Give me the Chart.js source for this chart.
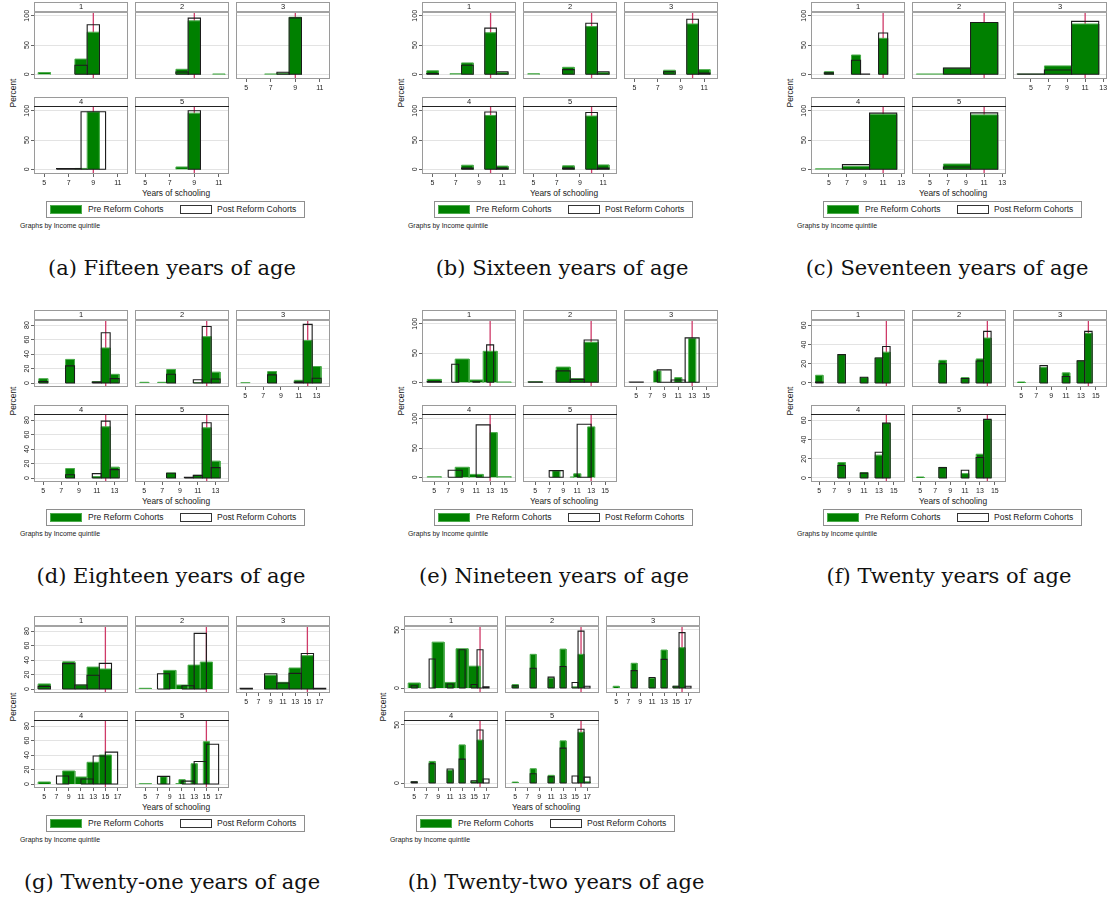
<!DOCTYPE html>
<html>
<head>
<meta charset="utf-8">
<script src="https://cdn.jsdelivr.net/npm/chart.js@4.4.1/dist/chart.umd.min.js"></script>
<style>
  body { margin: 0; background: #fff; width: 1112px; height: 900px; position: relative; overflow: hidden;
         font-family: "Liberation Sans", Arial, sans-serif; color: #1a1a1a; }
  .abs { position: absolute; white-space: nowrap; }
  .box { position: absolute; border: 1px solid #9a9a9a; box-sizing: border-box; pointer-events: none; z-index: 2; }
  .strip { position: absolute; text-align: center; font-size: 7.5px; background: #fff; z-index: 2; }
  .cap { position: absolute; font-family: "DejaVu Serif", serif; font-size: 21px; text-align: center; width: 400px;
         height: 26px; line-height: 26px; color: #111; }
  canvas { position: absolute; z-index: 1; }
</style>
</head>
<body>
<script>
// text
const ageTitles = ["(a) Fifteen years of age", "(b) Sixteen years of age", "(c) Seventeen years of age",
  "(d) Eighteen years of age", "(e) Nineteen years of age", "(f) Twenty years of age",
  "(g) Twenty-one years of age", "(h) Twenty-two years of age"];
const quintiles = ["1", "2", "3", "4", "5"];
const legendLabels = ["Pre Reform Cohorts", "Post Reform Cohorts"];
const xTitle = "Years of schooling";
const yTitle = "Percent";
const byNote = "Graphs by Income quintile";

// compulsory schooling cut-off (red line), one per age
const reformCutoff = [9, 10, 11, 12, 13, 14, 15, 16];

// tick labels
const xTicksTo11 = [5, 7, 9, 11];
const xTicksTo13 = [5, 7, 9, 11, 13];
const xTicksTo15 = [5, 7, 9, 11, 13, 15];
const xTicksTo17 = [5, 7, 9, 11, 13, 15, 17];
const yTicks100 = [0, 50, 100];
const yTicks80 = [0, 20, 40, 60, 80];
const yTicks60 = [0, 20, 40, 60];
const yTicks50 = [0, 50];

// bins per quintile: [from, to, percent]
const fifteenPre = [
  [[4.5, 5.5, 3], [7.5, 8.5, 26], [8.5, 9.5, 72]],
  [[7.5, 8.5, 8.6], [8.5, 9.5, 91.4], [10.5, 11.5, 0.6]],
  [[6.5, 7.5, 0.6], [7.5, 8.5, 2], [8.5, 9.5, 97.5]],
  [[7.5, 8.5, 1.5], [8.5, 9.5, 98]],
  [[7.5, 8.5, 4], [8.5, 9.5, 96]]
];
const fifteenPost = [
  [[7.5, 8.5, 15.4], [8.5, 9.5, 84.6]],
  [[7.5, 8.5, 4], [8.5, 9.5, 96]],
  [[7.5, 8.5, 3.5], [8.5, 9.5, 96.5]],
  [[6, 8, 1.5], [8, 10, 98.5]],
  [[8.5, 9.5, 100]]
];
const sixteenPre = [
  [[4.5, 5.5, 6], [6.5, 7.5, 1], [7.5, 8.5, 19.5], [9.5, 10.5, 71], [10.5, 11.5, 3]],
  [[4.5, 5.5, 1], [7.5, 8.5, 12], [9.5, 10.5, 81.6], [10.5, 11.5, 3]],
  [[7.5, 8.5, 7], [9.5, 10.5, 86], [10.5, 11.5, 8]],
  [[7.5, 8.5, 7], [9.5, 10.5, 92], [10.5, 11.5, 5.5]],
  [[7.5, 8.5, 6], [9.5, 10.5, 91], [10.5, 11.5, 7.5]]
];
const sixteenPost = [
  [[4.5, 5.5, 1.5], [7.5, 8.5, 15.5], [9.5, 10.5, 79], [10.5, 11.5, 4.5]],
  [[7.5, 8.5, 8], [9.5, 10.5, 87.4], [10.5, 11.5, 4.5]],
  [[7.5, 8.5, 4.5], [9.5, 10.5, 94], [10.5, 11.5, 2]],
  [[7.5, 8.5, 2], [9.5, 10.5, 98], [10.5, 11.5, 2]],
  [[7.5, 8.5, 2], [9.5, 10.5, 97], [10.5, 11.5, 2]]
];
const seventeenPre = [
  [[4.5, 5.5, 4.5], [7.5, 8.5, 33], [10.5, 11.5, 61.5]],
  [[3.5, 6.5, 0.6], [6.5, 9.5, 10.5], [9.5, 12.5, 88.5]],
  [[3.5, 6.5, 0.3], [6.5, 9.5, 14.4], [9.5, 12.5, 86]],
  [[3.5, 6.5, 0.8], [6.5, 9.5, 5], [9.5, 12.5, 94]],
  [[6.5, 9.5, 9], [9.5, 12.5, 93]]
];
const seventeenPost = [
  [[4.5, 5.5, 2.5], [7.5, 8.5, 24], [8.5, 9.5, 0.5], [10.5, 11.5, 70.7]],
  [[6.5, 9.5, 10.5], [9.5, 12.5, 88.5]],
  [[3.5, 6.5, 0.5], [6.5, 9.5, 7.5], [9.5, 12.5, 90.5]],
  [[6.5, 9.5, 8], [9.5, 12.5, 96]],
  [[6.5, 9.5, 4], [9.5, 12.5, 96.5]]
];
const eighteenPre = [
  [[4.5, 5.5, 6], [7.5, 8.5, 32.6], [10.5, 11.5, 2], [11.5, 12.5, 48.4], [12.5, 13.5, 12]],
  [[4.5, 5.5, 1], [6.5, 7.5, 1], [7.5, 8.5, 18.6], [10.5, 11.5, 0.5], [11.5, 12.5, 64], [12.5, 13.5, 15]],
  [[4.5, 5.5, 0.5], [7.5, 8.5, 15.8], [10.5, 11.5, 3.7], [11.5, 12.5, 58.6], [12.5, 13.5, 22.8]],
  [[7.5, 8.5, 13], [10.5, 11.5, 2], [11.5, 12.5, 70.7], [12.5, 13.5, 15]],
  [[7.5, 8.5, 7], [10.5, 11.5, 3.7], [11.5, 12.5, 69.3], [12.5, 13.5, 23.3]]
];
const eighteenPost = [
  [[4.5, 5.5, 2], [7.5, 8.5, 23.7], [10.5, 11.5, 1.5], [11.5, 12.5, 69.3], [12.5, 13.5, 6]],
  [[7.5, 8.5, 12], [10.5, 11.5, 4.6], [11.5, 12.5, 78], [12.5, 13.5, 5.6]],
  [[7.5, 8.5, 11.2], [10.5, 11.5, 1.5], [11.5, 12.5, 81], [12.5, 13.5, 6.5]],
  [[7.5, 8.5, 4.6], [10.5, 11.5, 6], [11.5, 12.5, 78.6], [12.5, 13.5, 11.6]],
  [[7.5, 8.5, 6.5], [9.5, 10.5, 1], [10.5, 11.5, 3.7], [11.5, 12.5, 76.3], [12.5, 13.5, 14.4]]
];
const nineteenPre = [
  [[4, 6, 5], [8, 10, 39.7], [10, 12, 4], [12, 14, 53], [14, 16, 0.6]],
  [[4, 6, 1], [8, 10, 26], [10, 12, 6.3], [12, 14, 68.4]],
  [[7.5, 8.5, 19.5], [10.5, 11.5, 8], [12.5, 13.5, 74.7]],
  [[4, 6, 1], [8, 10, 17.2], [10, 12, 5], [13, 14, 76.4], [14, 16, 1]],
  [[7.5, 8.5, 11], [10, 10.5, 0.6], [10.5, 11.5, 6], [12.5, 13.5, 86.2]]
];
const nineteenPost = [
  [[4, 6, 1.5], [7.5, 8.5, 31], [10.5, 11.5, 1], [12.5, 13.5, 64]],
  [[4, 6, 0.5], [8, 10, 19.5], [10, 12, 5], [12, 14, 72.4]],
  [[4, 6, 0.5], [8, 10, 21.3], [10, 12, 4], [12, 14, 76]],
  [[7, 9, 12], [11, 13, 89.7]],
  [[7, 9, 11.5], [11, 13, 90.8]]
];
const twentyPre = [
  [[4.5, 5.5, 8], [7.5, 8.5, 29.5], [10.5, 11.5, 5.6], [12.5, 13.5, 26], [13.5, 14.5, 32]],
  [[7.5, 8.5, 23.5], [10.5, 11.5, 5.6], [12.5, 13.5, 25], [13.5, 14.5, 46.7]],
  [[4.5, 5.5, 1], [7.5, 8.5, 16], [10.5, 11.5, 10.5], [12.5, 13.5, 23], [13.5, 14.5, 51.6]],
  [[7.5, 8.5, 16], [10.5, 11.5, 5.6], [12.5, 13.5, 23.7], [13.5, 14.5, 56.8]],
  [[4.5, 5.5, 1], [7.5, 8.5, 11], [10.5, 11.5, 4.5], [12.5, 13.5, 24.7], [13.5, 14.5, 60.6]]
];
const twentyPost = [
  [[4.5, 5.5, 1], [7.5, 8.5, 29.5], [10.5, 11.5, 6], [12.5, 13.5, 26], [13.5, 14.5, 38]],
  [[7.5, 8.5, 20], [10.5, 11.5, 4.6], [12.5, 13.5, 22.8], [13.5, 14.5, 53.7]],
  [[7.5, 8.5, 18], [10.5, 11.5, 6.7], [12.5, 13.5, 23], [13.5, 14.5, 53.7]],
  [[7.5, 8.5, 13], [10.5, 11.5, 5], [12.5, 13.5, 26.8], [13.5, 14.5, 57]],
  [[7.5, 8.5, 10.8], [10.5, 11.5, 8], [12.5, 13.5, 21.3], [13.5, 14.5, 61]]
];
const twentyOnePre = [
  [[4, 6, 7], [8, 10, 37.5], [10, 12, 5.5], [12, 14, 30.3], [14, 16, 27.6]],
  [[4, 6, 1], [8, 10, 25.7], [10, 12, 5.5], [12, 14, 33], [14, 16, 37.2]],
  [[8, 10, 19], [10, 12, 9.2], [12, 14, 29], [14, 16, 46]],
  [[4, 6, 2.8], [8, 10, 18], [10, 12, 9.7], [12, 14, 30], [14, 16, 40]],
  [[4, 6, 0.5], [7.5, 8.5, 10], [10, 10.5, 0.6], [10.5, 11.5, 6], [12.5, 13.5, 28], [14.5, 15.5, 58.4]]
];
const twentyOnePost = [
  [[4, 6, 3.7], [8, 10, 35], [10, 12, 5.5], [12, 14, 19], [14, 16, 35.4]],
  [[7, 9, 21], [11, 13, 4.6], [13, 15, 76.8]],
  [[4, 6, 1], [8, 10, 21], [10, 12, 8.3], [12, 14, 21.6], [14, 16, 49], [16, 18, 1]],
  [[7, 9, 11], [11, 13, 7], [13, 15, 38.6], [15, 17, 44]],
  [[7, 9, 10.6], [11, 13, 4], [13, 15, 31], [15, 17, 55]]
];
const twentyTwoPre = [
  [[4, 6, 4.3], [8, 10, 39.5], [10, 12, 4.8], [12, 14, 33.8], [14, 16, 18.8]],
  [[4.5, 5.5, 3], [7.5, 8.5, 29], [10.5, 11.5, 8.5], [12.5, 13.5, 33.5], [14.5, 15.5, 1], [15.5, 16.5, 29]],
  [[4.5, 5.5, 1.5], [7.5, 8.5, 21.3], [10.5, 11.5, 8.5], [12.5, 13.5, 32.7], [14.5, 15.5, 1.5], [15.5, 16.5, 34.7]],
  [[4.5, 5.5, 1], [7.5, 8.5, 18.6], [10.5, 11.5, 11], [12.5, 13.5, 32.8], [14.5, 15.5, 1.5], [15.5, 16.5, 37]],
  [[4.5, 5.5, 0.8], [7.5, 8.5, 12.3], [10.5, 11.5, 6.6], [12.5, 13.5, 36.3], [15.5, 16.5, 43.7], [16.5, 17.5, 1]]
];
const twentyTwoPost = [
  [[4.5, 5.5, 2], [7.5, 8.5, 25], [10.5, 11.5, 3.4], [12.5, 13.5, 33], [14.5, 15.5, 3], [15.5, 16.5, 33], [16.5, 17.5, 1]],
  [[4.5, 5.5, 2], [7.5, 8.5, 17], [10.5, 11.5, 9.4], [12.5, 13.5, 18.5], [14.5, 15.5, 4.8], [15.5, 16.5, 49], [16.5, 17.5, 1.5]],
  [[7.5, 8.5, 15], [10.5, 11.5, 9], [12.5, 13.5, 24.7], [14.5, 15.5, 1.5], [15.5, 16.5, 47.7], [16.5, 17.5, 1.5]],
  [[4.5, 5.5, 1], [7.5, 8.5, 16.6], [10.5, 11.5, 12], [12.5, 13.5, 20.6], [14.5, 15.5, 2], [15.5, 16.5, 45.7], [16.5, 17.5, 3.4]],
  [[7.5, 8.5, 8], [10.5, 11.5, 5.4], [12.5, 13.5, 30], [14.5, 15.5, 6], [15.5, 16.5, 46.3], [16.5, 17.5, 5.1]]
];

// layout of each sub-figure
const figures = [
  { ox: 0, oy: 0, pre: fifteenPre, post: fifteenPost, xr: [4.16, 11.83], yr: [-8, 106.5], xt: xTicksTo11, yt: yTicks100, cap: 172 },
  { ox: 388, oy: 0, pre: sixteenPre, post: sixteenPost, xr: [4.09, 12.19], yr: [-8, 106.5], xt: xTicksTo11, yt: yTicks100, cap: 174 },
  { ox: 777, oy: 0, pre: seventeenPre, post: seventeenPost, xr: [3.02, 13.42], yr: [-8, 106.5], xt: xTicksTo13, yt: yTicks100, cap: 170 },
  { ox: 0, oy: 308, pre: eighteenPre, post: eighteenPost, xr: [3.96, 14.5], yr: [-5.5, 87], xt: xTicksTo13, yt: yTicks80, cap: 171 },
  { ox: 388, oy: 308, pre: nineteenPre, post: nineteenPost, xr: [3.25, 16.7], yr: [-8, 106.5], xt: xTicksTo15, yt: yTicks100, cap: 166 },
  { ox: 777, oy: 308, pre: twentyPre, post: twentyPost, xr: [3.89, 16.5], yr: [-4.2, 65.5], xt: xTicksTo15, yt: yTicks60, cap: 172 },
  { ox: 0, oy: 614, pre: twentyOnePre, post: twentyOnePost, xr: [3.32, 18.7], yr: [-5.5, 87], xt: xTicksTo17, yt: yTicks80, cap: 172 },
  { ox: 370, oy: 614, pre: twentyTwoPre, post: twentyTwoPost, xr: [3.3, 19.0], yr: [-4.3, 53.4], xt: xTicksTo17, yt: yTicks50, cap: 186 }
];

const colX = [34, 135, 236];
const PW = 94;
const rowBox = [{ top: 2, strip: 12, bottom: 79 }, { top: 97, strip: 107, bottom: 174 }];
const FAM = '"Liberation Sans", Arial, sans-serif';
const GREEN = "#008000";
const GREEN_LINE = "#4cab4c";
const RED = "#cf3a68";

const meas = document.createElement("canvas").getContext("2d");
meas.font = "7px " + FAM;

function el(cls, css, text) {
  const d = document.createElement("div");
  d.className = cls;
  Object.assign(d.style, css);
  if (text !== undefined) d.textContent = text;
  document.body.appendChild(d);
  return d;
}

function rect(b, closed) {
  const pts = [{ x: b[0], y: 0 }, { x: b[0], y: b[2] }, { x: b[1], y: b[2] }, { x: b[1], y: 0 }];
  if (closed) pts.push({ x: b[0], y: 0 });
  return pts;
}

function drawPanel(fig, cut, p) {
  const col = p % 3, row = p < 3 ? 0 : 1;
  const g = rowBox[row];
  const left = fig.ox + colX[col];
  const showY = col === 0;
  const showX = row === 1 || p === 2;
  const yw = showY ? 16 : 0, xh = showX ? 13 : 0;
  const padT = showY ? 9 : 0, padR = showX ? 6 : 0;
  const plotH = g.bottom - g.strip;

  el("box", { left: left + "px", top: fig.oy + g.top + "px", width: PW + "px", height: (g.bottom - g.top) + "px" });
  el("strip", { left: left + 1 + "px", top: fig.oy + g.top + 1 + "px", width: PW - 2 + "px",
    height: (g.strip - g.top - 2) + "px", lineHeight: (g.strip - g.top - 2) + "px" }, quintiles[p]);
  el("abs", { left: left + "px", width: PW + "px", zIndex: 3,
    top: fig.oy + g.strip - 1 + "px", height: (row === 0 ? 2 : 1) + "px",
    background: row === 0 ? "#a3a3a3" : "#222" });

  const cv = document.createElement("canvas");
  cv.width = PW + yw + padR;
  cv.height = plotH + xh + padT;
  Object.assign(cv.style, { left: left - yw + "px", top: fig.oy + g.strip - padT + "px", width: cv.width + "px", height: cv.height + "px" });
  document.body.appendChild(cv);

  const datasets = [];
  fig.post[p].forEach(b => datasets.push({ data: rect(b, true), borderColor: "#1c1c1c", borderWidth: 1.1, fill: false }));
  fig.pre[p].forEach(b => datasets.push({ data: rect(b, false), borderColor: GREEN_LINE, backgroundColor: GREEN, borderWidth: 1, fill: "origin" }));
  datasets.push({ data: [{ x: cut, y: fig.yr[0] }, { x: cut, y: fig.yr[1] }], borderColor: RED, borderWidth: 1.3, fill: false });

  const widest = Math.max(...fig.yt.map(v => meas.measureText(String(v)).width));

  new Chart(cv, {
    type: "line",
    data: { datasets },
    options: {
      responsive: false,
      animation: false,
      events: [],
      layout: { padding: { top: padT, right: padR, left: 0, bottom: 0 } },
      elements: { point: { radius: 0 }, line: { tension: 0, borderJoinStyle: "miter" } },
      plugins: { legend: { display: false }, tooltip: { enabled: false } },
      scales: {
        x: {
          type: "linear", min: fig.xr[0], max: fig.xr[1],
          afterBuildTicks: s => { s.ticks = fig.xt.map(v => ({ value: v })); },
          afterFit: s => { s.height = xh; s.paddingLeft = 0; s.paddingRight = 0; },
          border: { display: false },
          grid: { drawOnChartArea: false, drawTicks: showX, tickLength: 3, tickColor: "#666", tickWidth: 1 },
          ticks: { display: showX, autoSkip: false, maxRotation: 0, padding: 2, color: "#222", font: { size: 7, family: FAM } }
        },
        y: {
          type: "linear", min: fig.yr[0], max: fig.yr[1],
          afterBuildTicks: s => { s.ticks = fig.yt.map(v => ({ value: v })); },
          afterFit: s => { s.width = yw; s.paddingTop = 0; s.paddingBottom = 0; },
          border: { display: false },
          grid: { color: "#e3e3e3", lineWidth: 1, drawTicks: showY, tickLength: 3, tickColor: "#666", tickWidth: 1 },
          ticks: { display: showY, minRotation: 90, maxRotation: 90, crossAlign: "center",
            padding: 7 - 3 - widest / 2, color: "#222", font: { size: 7, family: FAM } }
        }
      }
    }
  });
}

figures.forEach((fig, i) => {
  for (let p = 0; p < 5; p++) drawPanel(fig, reformCutoff[i], p);

  el("abs", { left: fig.ox + 13 - 30 + "px", top: fig.oy + 93 - 6 + "px", width: "60px", height: "12px", lineHeight: "12px",
    textAlign: "center", fontSize: "8.4px", transform: "rotate(-90deg)" }, yTitle);
  el("abs", { left: fig.ox + 176 - 60 + "px", top: fig.oy + 188 + "px", width: "120px", textAlign: "center",
    fontSize: "8.4px", lineHeight: "11px" }, xTitle);

  // legend
  el("abs", { left: fig.ox + 46 + "px", top: fig.oy + 201 + "px", width: "259px", height: "17px",
    border: "1px solid #8e8e8e", boxSizing: "border-box" });
  el("abs", { left: fig.ox + 50 + "px", top: fig.oy + 205 + "px", width: "32px", height: "9px",
    background: GREEN, border: "1px solid " + GREEN_LINE, boxSizing: "border-box" });
  el("abs", { left: fig.ox + 88 + "px", top: fig.oy + 204 + "px", fontSize: "8.5px", lineHeight: "11px" }, legendLabels[0]);
  el("abs", { left: fig.ox + 180 + "px", top: fig.oy + 205 + "px", width: "32px", height: "9px",
    background: "#fff", border: "1px solid #333", boxSizing: "border-box" });
  el("abs", { left: fig.ox + 217 + "px", top: fig.oy + 204 + "px", fontSize: "8.5px", lineHeight: "11px" }, legendLabels[1]);

  el("abs", { left: fig.ox + 20 + "px", top: fig.oy + 221 + "px", fontSize: "6.9px", lineHeight: "9px" }, byNote);

  el("cap", { left: fig.ox + fig.cap - 200 + "px", top: fig.oy + 255 + "px" }, ageTitles[i]);
});
</script>
</body>
</html>
